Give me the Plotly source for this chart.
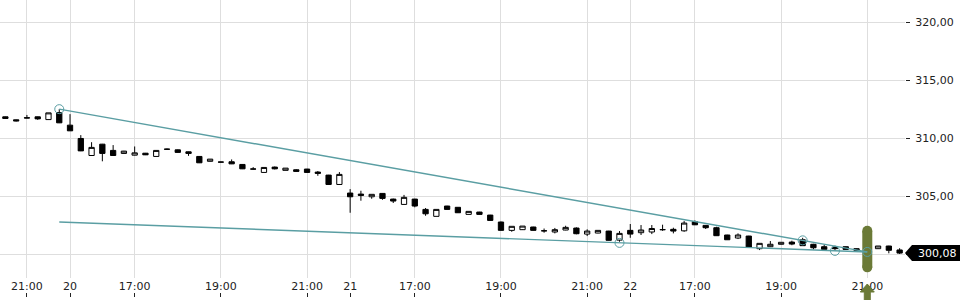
import plotly.graph_objects as go

# ---- data -------------------------------------------------------------
# 15-minute slots (US session 15:30-22:00 CET), index 0 = day 19, 20:30
slot = list(range(84))

open_ = [311.84, 311.58, 311.76, 311.84, 311.60, 312.20, 311.12, 309.97, 308.50, 309.48,
         308.94, 308.68, 308.53, 308.70, 308.42, 309.05, 308.99, 308.82, 308.42, 308.00,
         307.94, 307.96, 307.73, 307.34, 307.04, 307.50, 307.22, 307.27, 307.33, 307.07,
         306.81, 306.00, 305.26, 305.17, 304.94, 305.23, 304.74, 304.28, 304.74, 303.85,
         303.25, 304.14, 304.03, 303.42, 303.62, 303.36, 302.76, 302.04, 302.10, 302.33,
         302.01, 301.90, 302.07, 302.24, 301.72, 301.81, 301.98, 301.20, 302.04, 301.84,
         301.90, 302.11, 302.13, 302.00, 302.79, 302.47, 302.27, 301.64, 301.38, 301.55,
         300.46, 300.63, 300.84, 301.03, 301.23, 300.84, 300.63, 300.60, 300.63, 300.46,
         300.63, 300.46, 300.69, 300.35]
high = [311.86, 311.60, 312.00, 311.86, 312.18, 312.50, 312.07, 310.26, 309.65, 309.50,
        309.40, 308.90, 309.28, 308.72, 308.94, 309.10, 309.02, 308.84, 308.44, 308.19,
        307.95, 308.16, 307.75, 307.50, 307.47, 307.55, 307.41, 307.32, 307.35, 307.16,
        306.83, 307.07, 305.60, 305.46, 305.15, 305.25, 304.78, 305.10, 304.76, 303.97,
        303.85, 304.16, 304.05, 303.68, 303.64, 303.38, 302.80, 302.39, 302.41, 302.35,
        302.20, 302.25, 302.44, 302.30, 302.13, 302.04, 302.00, 301.98, 302.59, 302.50,
        302.50, 302.53, 302.27, 302.84, 302.90, 302.49, 302.35, 301.66, 301.78, 301.57,
        300.92, 301.12, 301.01, 301.15, 301.40, 300.88, 300.78, 300.72, 300.65, 300.48,
        300.70, 300.69, 300.71, 300.50]
low = [311.68, 311.44, 311.72, 311.58, 311.60, 311.30, 310.62, 308.88, 308.48, 308.00,
       308.48, 308.66, 308.51, 308.54, 308.42, 309.00, 308.75, 308.47, 307.85, 307.98,
       307.92, 307.76, 307.33, 307.30, 307.04, 307.30, 307.22, 307.08, 307.02, 306.75,
       305.98, 305.98, 303.56, 304.60, 304.77, 304.68, 304.40, 304.26, 304.03, 303.30,
       303.25, 303.83, 303.54, 303.42, 303.40, 302.88, 302.02, 301.92, 302.08, 302.02,
       301.84, 301.78, 302.05, 301.70, 301.55, 301.79, 301.16, 301.06, 301.40, 301.64,
       301.72, 302.00, 301.78, 301.92, 302.50, 302.16, 301.56, 301.21, 301.29, 300.58,
       300.34, 300.61, 300.82, 300.76, 300.70, 300.40, 300.38, 300.26, 300.38, 300.30,
       300.17, 300.44, 300.06, 300.00]
close = [311.70, 311.49, 311.74, 311.66, 312.18, 311.32, 310.63, 308.90, 309.20, 308.68,
         308.50, 308.88, 308.73, 308.56, 308.94, 309.04, 308.77, 308.68, 307.87, 308.19,
         307.93, 307.78, 307.35, 307.33, 307.47, 307.35, 307.41, 307.13, 307.04, 306.96,
         306.00, 306.87, 304.94, 305.06, 305.15, 304.80, 304.57, 304.89, 304.14, 303.47,
         303.85, 303.85, 303.56, 303.68, 303.42, 302.90, 302.04, 302.39, 302.41, 302.04,
         302.00, 302.10, 302.30, 301.75, 301.98, 302.04, 301.18, 301.78, 301.72, 302.07,
         302.20, 302.10, 301.98, 302.67, 302.52, 302.27, 301.58, 301.23, 301.64, 300.60,
         300.92, 300.84, 301.01, 300.86, 300.72, 300.54, 300.40, 300.46, 300.40, 300.32,
         300.49, 300.69, 300.32, 300.08]

tick_slots = [2, 6, 12, 20, 28, 32, 38, 46, 54, 58, 64, 72, 80]
tick_text = ["21:00", "20", "17:00", "19:00", "21:00", "21", "17:00", "19:00",
             "21:00", "22", "17:00", "19:00", "21:00"]
price_ticks = [300, 305, 310, 315, 320]
price_labels = ["", "305,00", "310,00", "315,00", "320,00"]  # 300 hidden behind last-price tag

# wedge trend lines (anchor points) and touch points
upper_x, upper_y = [5, 80], [312.50, 300.18]
lower_x, lower_y = [5, 80], [302.76, 300.18]
pivot_x = [5, 57, 74, 77, 80]
pivot_y = [312.50, 300.96, 301.18, 300.27, 300.18]

# current-time marker
marker_slot = 80
marker_span = [302.0, 298.85]

# ---- styling ------------------------------------------------------------
TEAL = "#5a9ea3"
OLIVE = "#6b7a37"
GRID = "#dedede"
TXT = "#222222"
Y_RANGE = [297.93, 321.92]
X_RANGE = [-0.5, 83.5]

fig = go.Figure()

# olive time marker (rounded bar)
fig.add_trace(go.Scatter(
    x=[marker_slot, marker_slot], y=marker_span, mode="lines+markers",
    line=dict(color=OLIVE, width=10), marker=dict(color=OLIVE, size=10),
    hoverinfo="skip", showlegend=False))

fig.add_trace(go.Candlestick(
    x=slot, open=open_, high=high, low=low, close=close,
    increasing=dict(line=dict(color="black", width=1), fillcolor="white"),
    decreasing=dict(line=dict(color="black", width=1), fillcolor="black"),
    whiskerwidth=0, showlegend=False))

fig.add_trace(go.Scatter(x=upper_x, y=upper_y, mode="lines",
                         line=dict(color=TEAL, width=1.4), hoverinfo="skip", showlegend=False))
fig.add_trace(go.Scatter(x=lower_x, y=lower_y, mode="lines",
                         line=dict(color=TEAL, width=1.4), hoverinfo="skip", showlegend=False))
fig.add_trace(go.Scatter(x=pivot_x, y=pivot_y, mode="markers",
                         marker=dict(symbol="circle-open", size=9, color=TEAL,
                                     line=dict(width=1, color=TEAL)),
                         hoverinfo="skip", showlegend=False))

# dummy trace for the tick-mark axis at the very bottom
fig.add_trace(go.Scatter(x=[None], y=[None], xaxis="x2", yaxis="y",
                         hoverinfo="skip", showlegend=False))

H, T, B = 300, 0, 3
plot_bottom_px = 278
paper_h = H - T - B
y_dom0 = (H - B - plot_bottom_px) / paper_h
plot_w = 960 - 55
slot_px = plot_w / (X_RANGE[1] - X_RANGE[0])


def py(px):
    """pixel row -> paper y"""
    return (H - B - px) / paper_h


fig.update_layout(
    width=960, height=300,
    margin=dict(l=0, r=55, t=T, b=B, pad=0),
    paper_bgcolor="white", plot_bgcolor="white",
    showlegend=False, separators=",.",
    font=dict(family="DejaVu Sans", size=11, color=TXT),
    xaxis=dict(range=X_RANGE, tickmode="array", tickvals=tick_slots, ticktext=tick_text,
               showgrid=True, gridcolor=GRID, gridwidth=1, zeroline=False, showline=False,
               ticks="", rangeslider=dict(visible=False), anchor="y",
               tickfont=dict(size=11, color=TXT, family="DejaVu Sans")),
    xaxis2=dict(range=X_RANGE, overlaying="x", anchor="free", position=0, side="bottom",
                tickmode="array", tickvals=tick_slots, ticks="inside", ticklen=4,
                tickcolor=TXT, tickwidth=1, showticklabels=False, showgrid=False,
                zeroline=False, showline=False),
    yaxis=dict(domain=[y_dom0, 1], range=Y_RANGE, side="right", tickmode="array",
               tickvals=price_ticks, ticktext=price_labels, ticks="outside", ticklen=4,
               tickcolor=TXT, tickwidth=1, showgrid=True, gridcolor=GRID, gridwidth=1,
               zeroline=False, showline=False, ticklabelstandoff=3,
               tickfont=dict(size=11, color=TXT, family="DejaVu Sans")),
)

# last-price label (arrow box) on the right axis
px_per_unit = (plot_bottom_px - T) / (Y_RANGE[1] - Y_RANGE[0])
last = close[-1]
half = 8 / px_per_unit
xa = 1 + 7 / plot_w
xb = 1 + 56 / plot_w
fig.add_shape(type="path", xref="paper", yref="y",
              path=f"M 1,{last} L {xa},{last + half} L {xb},{last + half} "
                   f"L {xb},{last - half} L {xa},{last - half} Z",
              fillcolor="black", line=dict(width=0), layer="above")
fig.add_annotation(xref="paper", yref="y", x=1 + 11 / plot_w, y=last,
                   text=f"{last:.2f}".replace(".", ","), showarrow=False,
                   xanchor="left", yanchor="middle",
                   font=dict(color="white", size=11, family="DejaVu Sans"))

# olive up-arrow below the time marker
hw = 7 / slot_px   # half head width
sw = 3 / slot_px   # half shaft width
m = marker_slot
fig.add_shape(type="path", xref="x", yref="paper",
              path=(f"M {m},{py(284)} L {m + hw},{py(292)} L {m + sw},{py(292)} "
                    f"L {m + sw},{py(302)} L {m - sw},{py(302)} L {m - sw},{py(292)} "
                    f"L {m - hw},{py(292)} Z"),
              fillcolor=OLIVE, line=dict(color=OLIVE, width=1, ), layer="above")

fig.write_html("out.html")
